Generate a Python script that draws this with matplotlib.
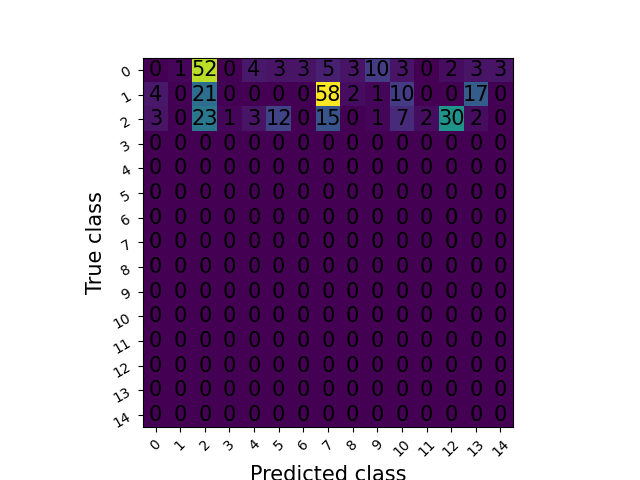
import numpy as np
import matplotlib
matplotlib.use("Agg")
import matplotlib.pyplot as plt

classes = [str(i) for i in range(15)]
row0 = [0, 1, 52, 0, 4, 3, 3, 5, 3, 10, 3, 0, 2, 3, 3]
row1 = [4, 0, 21, 0, 0, 0, 0, 58, 2, 1, 10, 0, 0, 17, 0]
row2 = [3, 0, 23, 1, 3, 12, 0, 15, 0, 1, 7, 2, 30, 2, 0]
zero_rows = [[0] * 15 for _ in range(12)]

cm = np.array([row0, row1, row2] + zero_rows)

fig, ax = plt.subplots(figsize=(6.4, 4.8), dpi=100)
ax.imshow(cm, cmap="viridis", interpolation="nearest")
for i in range(cm.shape[0]):
    for j in range(cm.shape[1]):
        ax.text(j, i, str(cm[i, j]), ha="center", va="center", color="black", fontsize=15)
ax.set_xticks(range(15))
ax.set_yticks(range(15))
ax.set_xticklabels(classes, rotation=45, fontsize=10)
ax.set_yticklabels(classes, rotation=30, fontsize=10)
ax.set_xlabel("Predicted class", fontsize=15)
ax.set_ylabel("True class", fontsize=15)
fig.savefig("out.png", dpi=100)
